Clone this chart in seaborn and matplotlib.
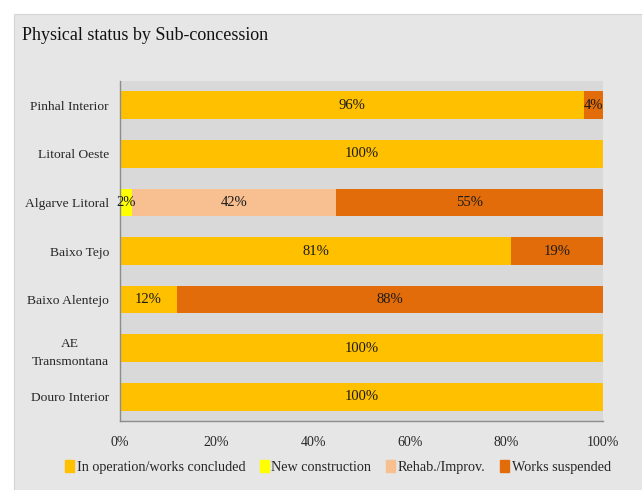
import matplotlib
matplotlib.use("Agg")
import matplotlib.pyplot as plt
import matplotlib.patches as mpatches
import seaborn as sns
import numpy as np
import pandas as pd

categories = ["Pinhal Interior", "Litoral Oeste", "Algarve Litoral", "Baixo Tejo",
              "Baixo Alentejo", "AE\nTransmontana", "Douro Interior"]
in_operation = [96, 100, 0, 81, 11.8, 100, 100]
new_construction = [0, 0, 2.4, 0, 0, 0, 0]
rehab = [0, 0, 42.3, 0, 0, 0, 0]
suspended = [4, 0, 55.3, 19, 88.2, 0, 0]

series_names = ["In operation/works concluded", "New construction", "Rehab./Improv.", "Works suspended"]
colors = ["#FFC000", "#FFFF00", "#F8BF90", "#E36C0A"]
xticks = [0, 20, 40, 60, 80, 100]
xtick_labels = ["0%", "20%", "40%", "60%", "80%", "100%"]

sns.set_theme(style="white")
plt.rcParams["font.family"] = ["Liberation Serif", "DejaVu Serif"]

fig = plt.figure(figsize=(6.42, 4.90), dpi=100)
fig.patch.set_facecolor("white")
bg = mpatches.Rectangle((14 / 642, 0), 1 - 14 / 642, 1 - 14 / 490, transform=fig.transFigure,
                        facecolor="#E6E6E6", edgecolor="#D4D4D4", linewidth=0.8, zorder=-10)
fig.patches.append(bg)

ax = fig.add_axes([120 / 642, (490 - 421) / 490, (603 - 120) / 642, (421 - 81) / 490])
ax.set_facecolor("#D9D9D9")

data = [in_operation, new_construction, rehab, suspended]
cum = np.cumsum(np.array(data, dtype=float), axis=0)
for i in range(3, -1, -1):
    d = pd.DataFrame({"cat": categories, "val": cum[i]})
    sns.barplot(data=d, y="cat", x="val", orient="h", color=colors[i], width=0.57,
                saturation=1, ax=ax, order=categories, linewidth=0)

# labels
for j, cat in enumerate(categories):
    left = 0.0
    for i in range(4):
        v = data[i][j]
        if v > 0:
            ax.text(left + v / 2, j, f"{round(v):d}%", ha="center", va="center",
                    fontsize=10.5, color="#1a1a1a")
        left += v

ax.set_xlim(0, 100)
ax.set_ylim(6.5, -0.5)
ax.set_xticks(xticks)
ax.set_xticklabels(xtick_labels, fontsize=10)
ax.set_xlabel("")
ax.set_ylabel("")
ax.tick_params(axis="y", labelsize=9.7, length=0, pad=8)
ax.tick_params(axis="x", length=0, pad=11)
for lab in ax.get_yticklabels():
    lab.set_horizontalalignment("right")
    lab.set_multialignment("center")
    lab.set_linespacing(1.7)
for s in ["top", "right"]:
    ax.spines[s].set_visible(False)
for s in ["left", "bottom"]:
    ax.spines[s].set_color("#8C8C8C")
    ax.spines[s].set_linewidth(1.0)

fig.text(22 / 642, 1 - 35 / 490, "Physical status by Sub-concession", fontsize=13,
         ha="left", va="center", color="#111111")

handles = [mpatches.Patch(color=c, label=n) for c, n in zip(colors, series_names)]
fig.legend(handles=handles, loc="center", bbox_to_anchor=(338 / 642, 1 - 467 / 490), ncol=4,
           frameon=False, fontsize=10.2, handlelength=0.6, handleheight=0.9, handletextpad=0.2,
           columnspacing=1.05)

fig.savefig("out.png", dpi=100, facecolor=fig.get_facecolor())
